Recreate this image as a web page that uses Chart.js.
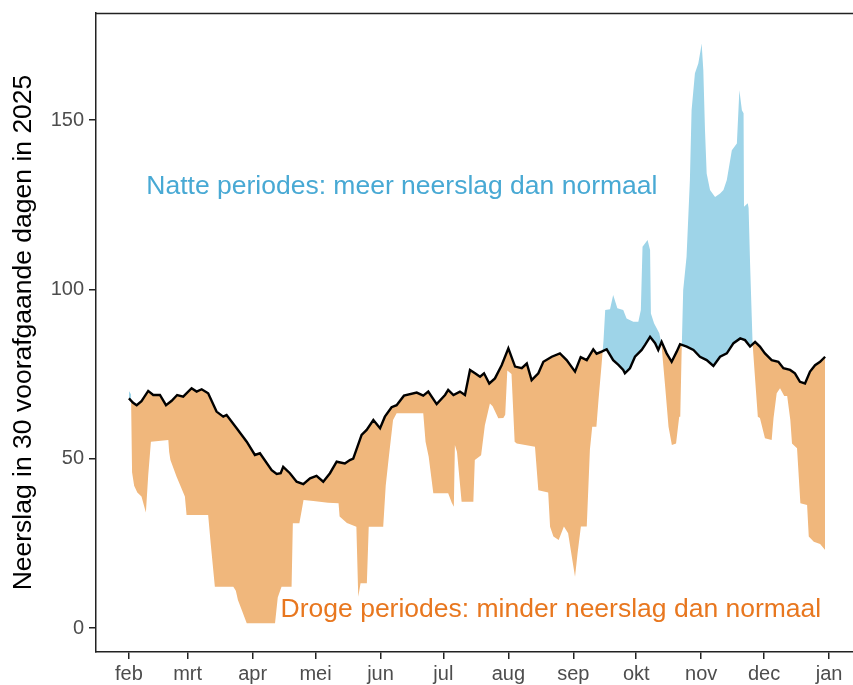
<!DOCTYPE html>
<html>
<head>
<meta charset="utf-8">
<script src="https://cdn.jsdelivr.net/npm/chart.js@4/dist/chart.umd.min.js"></script>
<style>
  html, body { margin: 0; padding: 0; background: #ffffff; }
  #wrap { width: 853px; height: 685px; }
</style>
</head>
<body>
<div id="wrap"><canvas id="c" width="853" height="685"></canvas></div>
<script>
// ---- Data (days since 1 Feb 2025, mm of rain in preceding 30 days) ----
const normalDays = [0,2,3.7,6,9.2,11.6,14.8,17.7,20.4,23,25.9,29.9,32.3,34.7,37.8,41.8,45,46.6,51.4,56.2,60.1,62.5,68.1,70.5,72.4,73.6,76.8,80,83.2,86.4,89.5,92.7,95.9,99.1,103,105.4,107,111,113.4,116.6,119.8,122.1,125.3,127.7,131.2,137.3,140.4,142.8,146.8,150.8,152.3,154.8,157.9,160.3,162.7,165.1,167.5,169.4,171.9,174.6,177.8,181,184.2,187.4,189.8,192.1,195.3,197.7,201.7,205.6,208.8,212.8,215.5,218.4,221.5,223.1,225.5,227.9,231,233.5,235.8,236.6,239,241.4,244.6,246.2,248.6,251,252.5,254.1,256.5,258.9,261.3,262.9,266.1,269.3,272.4,275.6,278.8,282,285.2,288.4,291.6,293.9,296.3,298.7,301,303.4,306.6,309.8,312.2,315.4,317.7,320.1,322.5,324.9,327.3,329.7,332.1];
const normalValues = [67.8,66.5,65.8,67,70,68.8,68.8,65.8,67.1,68.8,68.3,70.8,69.8,70.5,69.3,63.9,62.4,62.9,59,55,51.1,51.6,46.6,45.5,45.7,47.6,45.7,43.2,42.5,44.2,44.9,43.2,45.7,49.1,48.6,49.6,50,57,58.5,61.4,59,62.4,65.2,65.8,68.6,69.5,68.6,69.8,66.1,68.8,70.3,68.8,69.8,68.8,76.2,75.2,74.2,75.2,72.2,73.7,77.6,82.6,77.2,76.7,78.1,73.2,75.2,78.6,80.1,81.1,79.1,75.7,80,79.1,82.3,81,81.6,82.3,79.1,77.7,76.2,75.2,76.7,80.1,82.1,83.6,86,84.1,82.1,84.5,81.1,78.6,81.6,83.8,83.1,82.1,80.1,79.1,77.4,80.1,81.1,84.1,85.5,85,83.1,84.5,83.1,81.1,79.1,78.6,76.7,76.2,75.2,72.7,72.2,75.7,77.6,78.6,80.1];

const actualDays = [0,1,1.5,2.5,4,6,8.1,9.2,10.5,18.8,19.2,19.8,22.7,26.7,27.5,37.8,39,41,49.8,51,52,54,56.2,69.7,71,72.8,77.6,78.2,81.3,82.5,83.3,88,95,100,100.5,104,108.5,109.4,110.5,113.5,114.4,121.3,122.5,124,126,127.7,140.4,141.5,143,145.2,152.3,154,155,155.5,156.5,158.7,164.3,165,168,169.8,172.2,173.5,176.2,178.6,179.5,180.5,182.5,184,185,193.7,195.3,200,200.9,202.5,205,207.5,209.5,212.8,214,215.6,218.4,219.9,221,223,224,225.5,226.4,227.2,229.5,231,233,235.8,237.4,240.6,243,244.2,245,247.4,248.6,249,250.5,253,254,255.8,257.4,259,261,262.5,263,263.6,264.4,266,267.6,268.4,270,271.6,272.7,273.2,274,274.8,275.6,277.2,279.6,282,283.6,285.2,287.6,290,291.2,292.4,293.2,293.4,295.2,295.6,296.3,297.5,298.5,300,301,303.4,306.6,307.5,309,310.6,312.6,314,315.5,316.3,318.7,320.3,323.5,324.3,326.7,329.7,332.1];
const actualValues = [70,69,46,42,40,38.8,34.1,45,55,55.5,52,49.6,44.7,38.8,33.4,33.4,25,12.2,12.2,11,8.3,5,1.4,1.4,9,12.2,12.2,30.9,30.9,35,37.8,37.5,37,36.8,32.9,31,29.9,9.2,13.2,13.2,29.9,29.9,42,50.6,61.4,63.4,63.4,55,50.6,39.8,39.8,37,35.8,54,52,37.3,37.3,49.6,51,59.9,66.3,65.5,61.9,62,63,76,75,55,54.5,53.5,40.7,40,29.9,27,26,30,28,15.1,22,30,30,52.6,59.4,59.4,67.3,78,85,93.9,94.1,98.3,94.4,93.9,91.4,90.4,90.4,93.9,112.6,114.6,111.6,92.9,90,87,84,71.2,59.4,54,54.5,62.4,62.4,80,99.8,109.6,132.3,152.9,163.8,166.7,170.6,172.6,164.7,147,134.2,129.3,127.3,128.3,129.3,132.3,141.1,143.1,158.8,152.9,152,124.4,125.4,124,107.7,84,75.2,62.4,62,56,55.5,62,69.3,70.8,68.5,68.5,61.4,54.5,53.1,36.8,36.3,27,25.5,24.8,23];

const monthTickDays = [0,28,59,89,120,150,181,212,242,273,303,334];
const monthLabels = ['feb','mrt','apr','mei','jun','jul','aug','sep','okt','nov','dec','jan'];
const yTickValues = [0,50,100,150];

const yTitle = 'Neerslag in 30 voorafgaande dagen in 2025';
const wetLabel = 'Natte periodes: meer neerslag dan normaal';
const dryLabel = 'Droge periodes: minder neerslag dan normaal';

// ---- Styling / layout ----
const FONT = '"Liberation Sans", Arial, Helvetica, sans-serif';
const BLUE_FILL = '#9ED4E8';
const ORANGE_FILL = '#F0B77C';
const BLUE_TEXT = '#48A9D4';
const ORANGE_TEXT = '#E8771F';
const AXIS = '#222222';

const textLabels = [
  { text: wetLabel, x: 130.2, y: 130.2, color: BLUE_TEXT },
  { text: dryLabel, x: 201.3, y: 5.3, color: ORANGE_TEXT }
];

const toXY = (xs, ys) => xs.map((x, i) => ({ x: x, y: ys[i] }));

const labelPlugin = {
  id: 'labels',
  afterDatasetsDraw(chart) {
    const ctx = chart.ctx;
    const xs = chart.scales.x, ys = chart.scales.y;
    ctx.save();
    ctx.font = '26.5px ' + FONT;
    ctx.textAlign = 'center';
    ctx.textBaseline = 'middle';
    textLabels.forEach(l => {
      ctx.fillStyle = l.color;
      ctx.fillText(l.text, xs.getPixelForValue(l.x), ys.getPixelForValue(l.y));
    });
    // top border of panel
    const a = chart.chartArea;
    ctx.strokeStyle = AXIS;
    ctx.lineWidth = 1.5;
    ctx.beginPath();
    ctx.moveTo(a.left, a.top + 0.5);
    ctx.lineTo(a.right, a.top + 0.5);
    ctx.stroke();
    ctx.restore();
  }
};

new Chart(document.getElementById('c'), {
  type: 'line',
  data: {
    datasets: [
      {
        label: 'normaal',
        data: toXY(normalDays, normalValues),
        borderColor: '#000000',
        borderWidth: 2.4,
        pointRadius: 0,
        tension: 0,
        fill: false
      },
      {
        label: '2025',
        data: toXY(actualDays, actualValues),
        borderColor: 'rgba(0,0,0,0)',
        borderWidth: 0,
        pointRadius: 0,
        tension: 0,
        fill: { target: 0, above: BLUE_FILL, below: ORANGE_FILL }
      }
    ]
  },
  options: {
    responsive: false,
    animation: false,
    devicePixelRatio: 1,
    layout: { padding: { top: 13, right: 0, left: 2, bottom: 0 } },
    plugins: {
      legend: { display: false },
      tooltip: { enabled: false },
      filler: { propagate: false }
    },
    scales: {
      x: {
        type: 'linear',
        min: -15.7,
        max: 345.4,
        afterBuildTicks: s => { s.ticks = monthTickDays.map(v => ({ value: v })); },
        afterFit: s => { s.height = 33; s.paddingLeft = 0; s.paddingRight = 0; },
        ticks: {
          callback: (v) => { const i = monthTickDays.indexOf(v); return i >= 0 ? monthLabels[i] : ''; },
          color: '#4D4D4D',
          font: { family: FONT, size: 20 },
          padding: 3,
          maxRotation: 0,
          autoSkip: false
        },
        grid: { display: true, drawOnChartArea: false, drawTicks: true, tickLength: 7, color: AXIS, lineWidth: 1.5 },
        border: { display: true, color: AXIS, width: 1.5 }
      },
      y: {
        type: 'linear',
        min: -7.09,
        max: 181.6,
        afterBuildTicks: s => { s.ticks = yTickValues.map(v => ({ value: v })); },
        afterFit: s => { s.width = 94; s.paddingTop = 0; s.paddingBottom = 0; },
        ticks: {
          color: '#4D4D4D',
          font: { family: FONT, size: 20 },
          padding: 5
        },
        grid: { display: true, drawOnChartArea: false, drawTicks: true, tickLength: 7, color: AXIS, lineWidth: 1.5 },
        border: { display: true, color: AXIS, width: 1.5 },
        title: {
          display: true,
          text: yTitle,
          color: '#000000',
          font: { family: FONT, size: 26.5, lineHeight: 1.2 },
          padding: { top: 6, bottom: 0 }
        }
      }
    }
  },
  plugins: [labelPlugin]
});
</script>
</body>
</html>
